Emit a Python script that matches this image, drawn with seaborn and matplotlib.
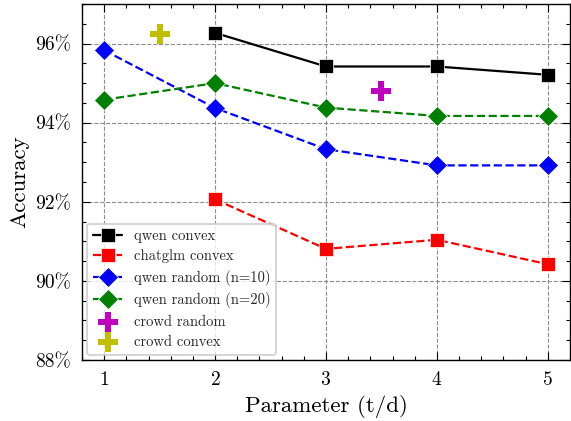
import matplotlib
matplotlib.use("Agg")
import matplotlib.pyplot as plt
import seaborn as sns
import pandas as pd
from matplotlib.ticker import MultipleLocator, FuncFormatter

# ---- data ----
x_qwen_convex = [2, 3, 4, 5]
y_qwen_convex = [96.27, 95.42, 95.42, 95.21]
x_chatglm_convex = [2, 3, 4, 5]
y_chatglm_convex = [92.06, 90.81, 91.04, 90.42]
x_qwen_random10 = [1, 2, 3, 4, 5]
y_qwen_random10 = [95.83, 94.37, 93.33, 92.92, 92.92]
x_qwen_random20 = [1, 2, 3, 4, 5]
y_qwen_random20 = [94.58, 95.00, 94.38, 94.17, 94.17]
x_crowd_random = [3.5]
y_crowd_random = [94.79]
x_crowd_convex = [1.5]
y_crowd_convex = [96.25]

sns.set_theme(style="ticks")
plt.rcParams['font.family'] = ['serif']
plt.rcParams['font.serif'] = ['cmr10', 'DejaVu Serif']
plt.rcParams['mathtext.fontset'] = 'cm'
plt.rcParams['axes.formatter.use_mathtext'] = True
plt.rcParams['axes.unicode_minus'] = False

fig = plt.figure(figsize=(5.71, 4.21), dpi=100)
ax = fig.add_axes([82/571, 1-360/421, (570-82)/571, (360-4)/421])

lw = 1.6
ms_sq = 9.5
ms_d = 10
sns.lineplot(x=x_qwen_convex, y=y_qwen_convex, ax=ax, color='black', linestyle='-',
             marker='s', markersize=ms_sq, markeredgewidth=0.5, linewidth=lw, label='qwen convex')
sns.lineplot(x=x_chatglm_convex, y=y_chatglm_convex, ax=ax, color='red', linestyle='--',
             marker='s', markersize=ms_sq, markeredgewidth=0.5, linewidth=lw, label='chatglm convex')
sns.lineplot(x=x_qwen_random10, y=y_qwen_random10, ax=ax, color='blue', linestyle='--',
             marker='D', markersize=ms_d, markeredgewidth=0.5, linewidth=lw, label='qwen random (n=10)')
sns.lineplot(x=x_qwen_random20, y=y_qwen_random20, ax=ax, color='green', linestyle='--',
             marker='D', markersize=ms_d, markeredgewidth=0.5, linewidth=lw, label='qwen random (n=20)')
sns.scatterplot(x=x_crowd_random, y=y_crowd_random, ax=ax, color='#bf00bf', marker='P',
                s=200, linewidth=0, label='crowd random', zorder=3)
sns.scatterplot(x=x_crowd_convex, y=y_crowd_convex, ax=ax, color='#bfbf00', marker='P',
                s=200, linewidth=0, label='crowd convex', zorder=3)

ax.set_xlim(0.8, 5.2)
ax.set_ylim(88, 97)
ax.xaxis.set_major_locator(MultipleLocator(1))
ax.xaxis.set_minor_locator(MultipleLocator(0.2))
ax.yaxis.set_major_locator(MultipleLocator(2))
ax.yaxis.set_minor_locator(MultipleLocator(0.5))
ax.yaxis.set_major_formatter(FuncFormatter(lambda v, p: f"{v:.0f}%"))

ax.tick_params(which='both', direction='in', top=True, right=True, labelsize=14, colors='black')
ax.tick_params(which='major', length=6, width=0.8, pad=8)
ax.tick_params(which='minor', length=3, width=0.8)
for s in ax.spines.values():
    s.set_linewidth(1.0)
    s.set_color('black')

ax.grid(True, which='major', linestyle='--', color='gray', linewidth=0.8, alpha=0.9)
ax.set_axisbelow(True)

ax.set_xlabel('Parameter (t/d)', fontsize=16.5, color='black')
ax.set_ylabel('Accuracy', fontsize=16.5, color='black')

leg = ax.legend(loc='lower left', fontsize=10.5, frameon=True, fancybox=True,
                framealpha=0.8, edgecolor='#cccccc', borderpad=0.4,
                handlelength=2.0, labelspacing=0.45, borderaxespad=0.35)
leg.get_frame().set_linewidth(1.5)

fig.savefig('out.png', dpi=100)
